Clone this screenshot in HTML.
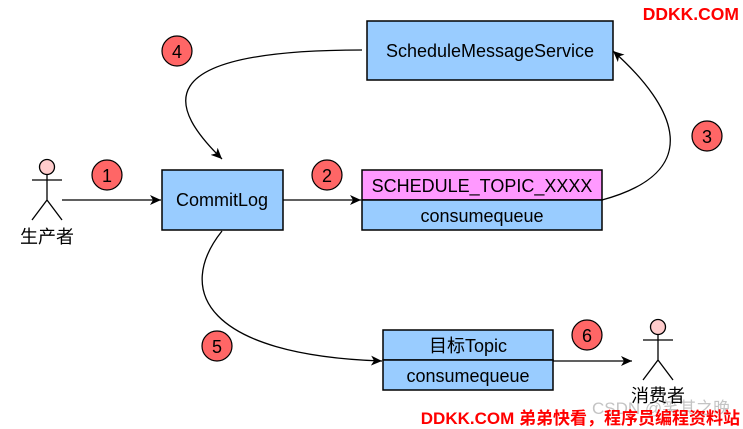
<!DOCTYPE html>
<html><head><meta charset="utf-8"><style>
html,body{margin:0;padding:0;background:#fff;}
svg{display:block;}
text{font-family:"Liberation Sans","Noto Sans CJK SC",sans-serif;}
</style></head><body>
<svg width="743" height="429" viewBox="0 0 743 429" xmlns="http://www.w3.org/2000/svg">
<defs>
<marker id="ar" markerUnits="userSpaceOnUse" markerWidth="12" markerHeight="10" refX="11" refY="5" orient="auto">
<path d="M0,0 L11,5 L0,10 L3,5 Z" fill="#000"/>
</marker>
</defs>
<g fill="none" stroke="#000" stroke-width="1.3">
<!-- curve 4 -->
<path d="M362,50 C140,50 172,110 222,159" marker-end="url(#ar)"/>
<!-- curve 3 -->
<path d="M602,200 C705,172 677,108 613,51" marker-end="url(#ar)"/>
<!-- curve 5 -->
<path d="M222,231 C175,290 205,355 382,361" marker-end="url(#ar)"/>
<!-- straight arrows -->
<path d="M62,200 L161,200" marker-end="url(#ar)"/>
<path d="M283,200 L361,200" marker-end="url(#ar)"/>
<path d="M553,361 L632,361" marker-end="url(#ar)"/>
</g>
<!-- boxes -->
<g stroke="#000" stroke-width="1.5">
<rect x="367" y="21" width="246" height="59" fill="#99CCFF"/>
<rect x="162" y="170" width="121" height="60" fill="#99CCFF"/>
<rect x="362" y="170" width="240" height="30" fill="#FF99FF"/>
<rect x="362" y="200" width="240" height="30" fill="#99CCFF"/>
<rect x="383" y="330" width="170" height="30" fill="#99CCFF"/>
<rect x="383" y="360" width="170" height="30" fill="#99CCFF"/>
</g>
<g font-size="18" fill="#000" text-anchor="middle" dominant-baseline="central">
<text x="490" y="51">ScheduleMessageService</text>
<text x="222" y="200">CommitLog</text>
<text x="482" y="186">SCHEDULE_TOPIC_XXXX</text>
<text x="482" y="216">consumequeue</text>
<text x="468" y="346">目标Topic</text>
<text x="468" y="376">consumequeue</text>
</g>
<!-- circles -->
<g fill="#FF6666" stroke="#000" stroke-width="1.2">
<circle cx="177" cy="51" r="15"/>
<circle cx="107" cy="175" r="15"/>
<circle cx="327" cy="175" r="15"/>
<circle cx="707" cy="136" r="15"/>
<circle cx="217" cy="346" r="15"/>
<circle cx="587" cy="335" r="15"/>
</g>
<g font-size="18" fill="#000" text-anchor="middle" dominant-baseline="central">
<text x="177" y="52">4</text>
<text x="107" y="176">1</text>
<text x="327" y="176">2</text>
<text x="707" y="137">3</text>
<text x="217" y="347">5</text>
<text x="587" y="336">6</text>
</g>
<!-- actors -->
<g stroke="#000" stroke-width="1.3" fill="none">
<circle cx="47" cy="167" r="7.5" fill="#FFCCCC"/>
<path d="M47,174.5 L47,200 M32,180 L62,180 M47,200 L32,220 M47,200 L62,220"/>
<circle cx="658" cy="327" r="7.5" fill="#FFCCCC"/>
<path d="M658,334.5 L658,360 M643,340 L673,340 M658,360 L643,380 M658,360 L673,380"/>
</g>
<!-- watermark gray -->
<text x="592" y="414" font-size="17" fill="#c4c4c4">CSDN @笑其之晚</text>
<g font-size="18" fill="#000" text-anchor="middle" dominant-baseline="central">
<text x="47" y="237">生产者</text>
<text x="658" y="396">消费者</text>
</g>
<text x="739" y="20" font-size="17.5" font-weight="bold" fill="#FF0000" text-anchor="end">DDKK.COM</text>
<text x="740" y="424" font-size="17" font-weight="bold" fill="#FF0000" text-anchor="end">DDKK.COM 弟弟快看，程序员编程资料站</text>
</svg>
</body></html>
